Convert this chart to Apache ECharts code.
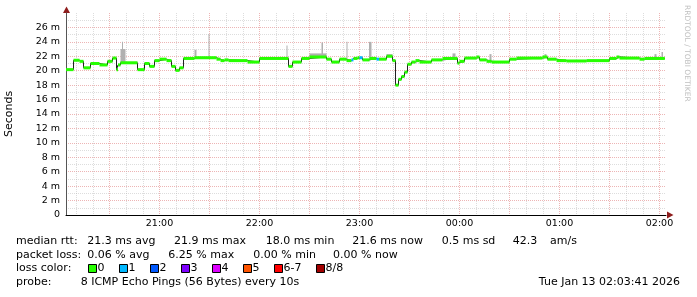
<!DOCTYPE html>
<html><head><meta charset="utf-8">
<script src="https://cdn.jsdelivr.net/npm/echarts@6/dist/echarts.min.js"></script>
<style>html,body{margin:0;padding:0;background:#fff}#c{width:697px;height:297px}</style>
</head><body><div id="c"></div>
<script>
// ---- data (time = minutes after 20:00, values in ms) ----
const segStart = [3.9,8.4,12.0,14.4,18.6,24.0,28.8,31.8,34.2,35.1,36.6,46.8,51.0,54.0,57.0,60.0,64.2,67.2,69.6,72.0,
  74.4,81.0,94.2,96.6,99.0,101.4,112.8,120.0,137.4,139.8,145.2,150.0,160.2,163.2,168.0,172.2,175.2,176.4,178.8,180.0,
  181.8,186.0,190.2,191.7,196.2,199.8,201.6,203.4,205.2,207.0,208.8,211.2,213.6,216.0,223.2,229.8,238.8,240.0,243.0,250.2,
  252.0,256.2,259.2,270.0,274.2,289.8,292.8,298.2,304.2,316.2,330.0,334.2,336.0,348.0,351.0];
const segMedian = [20.15,21.45,21.3,20.4,21.0,20.8,21.3,21.75,20.15,20.8,21.1,20.15,21.0,20.6,21.4,21.6,21.4,20.6,20.05,20.4,
  21.7,21.8,21.6,21.4,21.5,21.4,21.2,21.7,20.6,21.2,21.7,21.9,21.6,21.2,21.6,21.4,21.5,21.7,21.8,21.8,
  21.5,21.7,21.6,21.6,22.0,21.4,18.0,18.8,19.2,19.8,20.9,21.2,21.4,21.2,21.5,21.7,21.05,21.3,21.75,21.9,
  21.5,21.3,21.2,21.6,21.75,21.9,21.6,21.4,21.35,21.4,21.7,21.9,21.75,21.6,21.7];
const segLoss = [0,0,0,0,0,0,0,0,0,0,0,0,0,0,0,0,0,0,0,0,
  0,0,0,0,0,0,0,0,0,0,0,0,0,0,0,0,1,0,0,1,
  0,0,1,0,0,0,0,0,0,0,0,0,0,0,0,0,0,0,0,0,
  0,0,0,0,0,0,0,0,0,0,0,0,0,0,0];
const dataEnd = 363.2;
// smoke (spread of the pings above the median)
const smokeStart = [36.6,37.5,81.0,89.4,136.2,150.0,157.2,172.2,185.7,196.2,235.8,258.0,291.0,357.0,361.2];
const smokeEnd   = [39.6,38.1,82.2,90.0,136.8,160.2,158.1,172.8,187.2,199.8,237.6,259.2,292.2,358.2,362.1];
const smokeTop   = [23.0,24.0,22.9,25.1,23.5,22.4,23.9,24.0,24.0,22.3,22.4,22.3,22.3,22.3,22.6];
// axis text
const hourLabels = ['21:00','22:00','23:00','00:00','01:00','02:00'];
// legend text
const lossColors = ['#26ff00','#00b8ff','#0059ff','#7e00ff','#dd00ff','#ff5500','#ff0000','#a10000'];
const lossLabels = ['0','1','2','3','4','5','6-7','8/8'];
const statMedian = ['21.3 ms avg','21.9 ms max','18.0 ms min','21.6 ms now','0.5 ms sd','42.3','am/s'];
const statLoss = ['0.06 % avg','6.25 % max','0.00 % min','0.00 % now'];
const probeText = '8 ICMP Echo Pings (56 Bytes) every 10s';
const stampText = 'Tue Jan 13 02:03:41 2026';

// ---- build ----
const segs = segStart.map((s,i)=>[s, i+1<segStart.length?segStart[i+1]:dataEnd, segMedian[i], segLoss[i]]);
const linePts = segStart.map((s,i)=>[s, segMedian[i]]);
linePts.push([dataEnd, segMedian[segMedian.length-1]]);
function medianAt(t){ let v=segMedian[0]; for(let i=0;i<segStart.length;i++){ if(segStart[i]<=t) v=segMedian[i]; } return v; }
const smoke = smokeStart.map((s,i)=>[s, smokeEnd[i], medianAt(s), smokeTop[i]]);
const W = 0.21;
const FONT = 'DejaVu Sans';

const chart = echarts.init(document.getElementById('c'), null, {renderer:'canvas'});
const majorGrid = {color:'rgba(215,90,90,0.45)', type:[1,1], width:1};
const minorGrid = {color:'rgba(170,170,170,0.4)', type:[1,1], width:1};

const graphics = [];
function txt(x,y,t,extra){ graphics.push(Object.assign({type:'text', x:x, y:y, silent:true,
  style:{text:t, fill:'#000', font:'11px "'+FONT+'"', verticalAlign:'middle', align:'left'}}, extra||{})); }
const r1=241.5, r2=255, r3=268.5, r4=282.5;
txt(16,r1,'median rtt:');
[87.3,174,265.7,352.3,441.7,512.7,550].forEach((x,i)=>txt(x,r1,statMedian[i]));
txt(16,r2,'packet loss:');
[87.3,168.3,253.3,333].forEach((x,i)=>txt(x,r2,statLoss[i]));
txt(16,r3,'loss color:');
[88.5,119.5,150.5,181.5,212.5,243.5,274.5,316.5].forEach((x,i)=>{
  graphics.push({type:'rect', silent:true, shape:{x:x, y:264.5, width:8, height:8}, style:{fill:lossColors[i], stroke:'#000', lineWidth:1}});
  txt(x+9, r3, lossLabels[i]);
});
txt(16,r4,'probe:');
txt(80.7,r4,probeText);
graphics.push({type:'text', x:680, y:r4, silent:true, style:{text:stampText, fill:'#000', font:'11px "'+FONT+'"', verticalAlign:'middle', align:'right'}});
// watermark
graphics.push({type:'text', x:687, y:5, rotation:-Math.PI/2, silent:true,
  style:{text:'RRDTOOL / TOBI OETIKER', fill:'#c0c0c0', font:'7.5px "'+FONT+'"', verticalAlign:'middle', align:'left'}});
// axis arrows
graphics.push({type:'polygon', silent:true, shape:{points:[[667,211.5],[673.5,215],[667,218.5]]}, style:{fill:'#8f1d1d'}});
graphics.push({type:'polygon', silent:true, shape:{points:[[63,13],[66.5,6.5],[70,13]]}, style:{fill:'#8f1d1d'}});

const option = {
  animation:false,
  backgroundColor:'#fff',
  textStyle:{fontFamily:FONT},
  grid:[{left:66, top:13, width:600, height:202, containLabel:false, outerBoundsMode:'none'},
        {left:59.5, top:13, width:600, height:202, containLabel:false, outerBoundsMode:'none'}],
  xAxis:[
    {gridIndex:0, type:'value', min:3.9, max:363.9,
     axisLine:{show:true, onZero:false, lineStyle:{color:'#000', width:1}},
     axisTick:{show:false}, axisLabel:{show:false}, splitLine:{show:false}},
    {gridIndex:1, type:'value', min:0, max:360, interval:30,
     axisLine:{show:false}, axisTick:{show:false},
     axisLabel:{show:true, showMaxLabel:true, showMinLabel:true, margin:4, fontSize:9.5, color:'#000', fontFamily:FONT,
       formatter:v=>(v>0 && v%60===0)?hourLabels[v/60-1]:''},
     splitLine:{show:true, showMinLine:false, showMaxLine:true, lineStyle:majorGrid},
     minorTick:{show:false, splitNumber:3},
     minorSplitLine:{show:true, lineStyle:minorGrid}}
  ],
  yAxis:[
    {gridIndex:0, type:'value', min:0, max:28, interval:2,
     axisLine:{show:true, lineStyle:{color:'#555', width:1}},
     axisTick:{show:false},
     axisLabel:{margin:6, fontSize:9.5, color:'#000', fontFamily:FONT,
       formatter:v=>v===0?'0':(v>=28?'':v+' m')},
     splitLine:{show:true, showMaxLine:false, lineStyle:majorGrid},
     minorTick:{show:false, splitNumber:2},
     minorSplitLine:{show:true, lineStyle:minorGrid},
     name:'Seconds', nameLocation:'middle', nameGap:51, nameRotate:90,
     nameTextStyle:{fontSize:11, color:'#000', fontFamily:FONT}},
    {gridIndex:1, type:'value', min:0, max:28, show:false, splitLine:{show:false}}
  ],
  series:[
    {type:'custom', xAxisIndex:0, yAxisIndex:0, z:2, data:smoke, encode:{x:[0,1], y:[2,3]},
     renderItem:(p,api)=>{ const a=api.coord([api.value(0),api.value(3)]), b=api.coord([api.value(1),api.value(2)]);
       return {type:'rect', shape:{x:a[0], y:a[1], width:Math.max(1,b[0]-a[0]), height:b[1]-a[1]}, style:{fill:'#b0b0b0'}}; }},
    {type:'line', xAxisIndex:0, yAxisIndex:0, z:3, step:'end', data:linePts, symbol:'none',
     lineStyle:{color:'#202020', width:1}},
    {type:'custom', xAxisIndex:0, yAxisIndex:0, z:4, data:segs, encode:{x:[0,1], y:2},
     renderItem:(p,api)=>{ const v=api.value(2); const a=api.coord([api.value(0),v+W]), b=api.coord([api.value(1),v-W]);
       return {type:'rect', shape:{x:a[0], y:a[1], width:b[0]-a[0], height:b[1]-a[1]}, style:{fill:lossColors[api.value(3)]}}; }}
  ],
  graphic:graphics
};
chart.setOption(option);
</script></body></html>
